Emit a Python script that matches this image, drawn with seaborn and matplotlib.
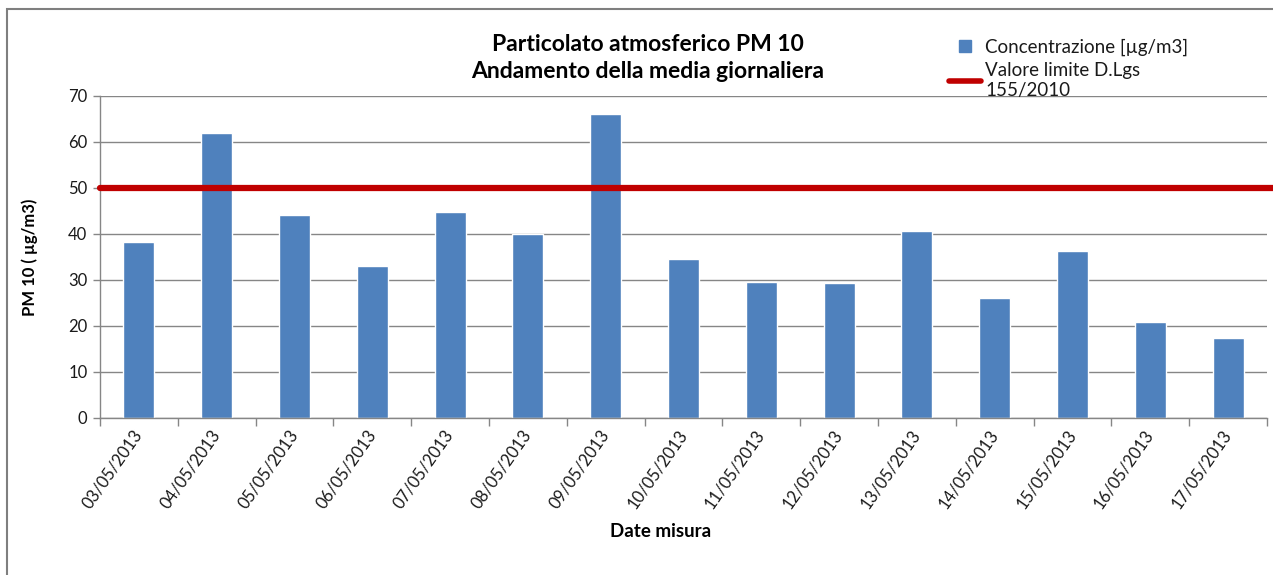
import matplotlib
matplotlib.use("Agg")
import matplotlib.pyplot as plt
import seaborn as sns
import pandas as pd
from matplotlib.lines import Line2D
from matplotlib.patches import Rectangle
from matplotlib.ticker import FixedLocator

# ---------- data ----------
dates = ["03/05/2013", "04/05/2013", "05/05/2013", "06/05/2013", "07/05/2013",
         "08/05/2013", "09/05/2013", "10/05/2013", "11/05/2013", "12/05/2013",
         "13/05/2013", "14/05/2013", "15/05/2013", "16/05/2013", "17/05/2013"]
pm10 = [38.2, 61.9, 44.1, 33.0, 44.8, 39.9, 66.1, 34.5, 29.5, 29.3,
        40.6, 26.0, 36.4, 20.9, 17.4]
limit_value = 50

bar_label = "Concentrazione [µg/m3]"
limit_label = "Valore limite D.Lgs\n155/2010"

df = pd.DataFrame({"data": dates, "pm10": pm10})

sns.set_style("white")
plt.rcParams["font.family"] = ["Lato", "DejaVu Sans"]

BLUE = "#4F81BD"
RED = "#C00000"
GRID = "#868686"
TXT = "#1a1a1a"

fig = plt.figure(figsize=(12.73, 5.75), dpi=100)
ax = fig.add_axes([100 / 1273, 1 - 418 / 575, 1167 / 1273, 322 / 575])

sns.barplot(data=df, x="data", y="pm10", color=BLUE, width=0.4,
            saturation=1, ax=ax, zorder=2)
ax.axhline(limit_value, color=RED, lw=4.5, xmin=0, xmax=1.005,
           clip_on=False, zorder=3)

ax.set_xlim(-0.5, len(dates) - 0.5)
ax.set_ylim(0, 70)
ax.set_yticks(range(0, 71, 10))
ax.yaxis.grid(True, color=GRID, lw=1)
ax.set_axisbelow(True)

for s in ["top", "right"]:
    ax.spines[s].set_visible(False)
for s in ["left", "bottom"]:
    ax.spines[s].set_color(GRID)
    ax.spines[s].set_linewidth(1)

# category boundaries as tick marks
ax.xaxis.set_minor_locator(FixedLocator([i - 0.5 for i in range(len(dates) + 1)]))
ax.tick_params(axis="x", which="minor", length=6, color=GRID, width=1, bottom=True)
ax.tick_params(axis="x", which="major", length=0, pad=10, labelsize=12, labelcolor=TXT)
ax.tick_params(axis="y", length=5, color=GRID, width=1, left=True, labelsize=12,
               labelcolor=TXT, pad=4)
plt.setp(ax.get_xticklabels(), rotation=55, ha="right", va="center",
         rotation_mode="anchor")

ax.set_xlabel("Date misura", fontsize=13.5, fontweight="bold", color="black")
ax.xaxis.set_label_coords(0.48, -0.325)
ax.set_ylabel("PM 10 ( µg/m3)", fontsize=12, fontweight="bold", color="black")
ax.yaxis.set_label_coords(-0.053, 0.5)

fig.text(648 / 1273, 1 - 58 / 575, "Particolato atmosferico PM 10\nAndamento della media giornaliera",
         ha="center", va="center", fontsize=16.5, fontweight="bold",
         linespacing=1.35, color="black")

handles = [
    Line2D([], [], marker="s", color=BLUE, linestyle="None", markersize=8),
    Line2D([], [], color=RED, lw=4),
]
fig.legend(handles, [bar_label, limit_label], loc="upper left",
           bbox_to_anchor=(940 / 1273, 1 - 29 / 575), frameon=False,
           fontsize=13.5, handlelength=1.7, handletextpad=0.2,
           labelspacing=0.35, borderpad=0, labelcolor=TXT)

# outer chart frame
fig.patches.append(Rectangle((7 / 1273, -0.1), 1.2, 1.1 - 9 / 575,
                             transform=fig.transFigure, fill=False,
                             edgecolor="#7f7f7f", lw=1.5, clip_on=False))

fig.savefig("out.png", dpi=100)
